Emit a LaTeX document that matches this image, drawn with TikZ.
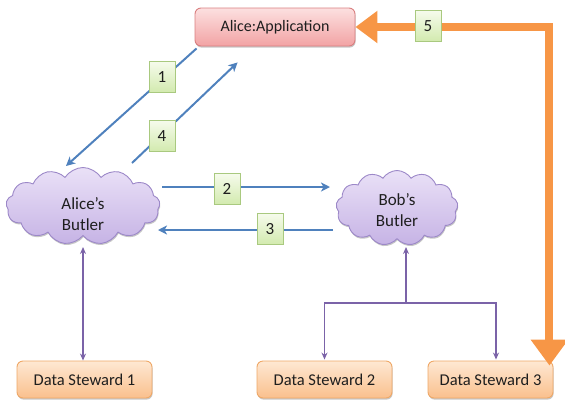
\documentclass[tikz,border=0pt]{standalone}
\usepackage{fontspec}
\setmainfont{Carlito}
\usetikzlibrary{arrows.meta,shapes.symbols,shadows,calc}

\definecolor{apptop}{HTML}{FCE0E0}
\definecolor{appbot}{HTML}{F2A3A4}
\definecolor{appline}{HTML}{D97F80}
\definecolor{dstop}{HTML}{FEE8D3}
\definecolor{dsbot}{HTML}{FAC08D}
\definecolor{dsline}{HTML}{EFA867}
\definecolor{cltop}{HTML}{EAE1F7}
\definecolor{clbot}{HTML}{C6B3E5}
\definecolor{clline}{HTML}{9C88C8}
\definecolor{numtop}{HTML}{F6FBEC}
\definecolor{numbot}{HTML}{D2EAAE}
\definecolor{numline}{HTML}{A9C97F}
\definecolor{flowblue}{HTML}{4F81BD}
\definecolor{linkpurple}{HTML}{7B63A8}
\definecolor{resultorange}{HTML}{F79646}
\definecolor{ink}{HTML}{1E1E1E}

\tikzset{
  softshadow/.style={drop shadow={shadow xshift=0.6pt, shadow yshift=-1.6pt, opacity=0.22, fill=black}},
  appbox/.style={rectangle, rounded corners=6pt, draw=appline, line width=0.9pt,
    top color=apptop, bottom color=appbot, minimum width=160pt, minimum height=38pt,
    text=ink, font=\fontsize{16}{19}\selectfont, softshadow},
  dsbox/.style={rectangle, rounded corners=6pt, draw=dsline, line width=0.9pt,
    top color=dstop, bottom color=dsbot, minimum height=37pt,
    text=ink, font=\fontsize{16.5}{19}\selectfont, softshadow},
  butler/.style={cloud, cloud puffs=13, cloud puff arc=115, cloud ignores aspect,
    draw=clline, line width=0.9pt, top color=cltop, bottom color=clbot,
    inner sep=0pt, softshadow},
  butlertext/.style={align=center, inner sep=0pt, text=ink, font=\fontsize{17}{21}\selectfont},
  numbox/.style={rectangle, draw=numline, line width=0.8pt, top color=numtop, bottom color=numbot,
    minimum width=26pt, minimum height=31pt, inner sep=0pt, text=ink,
    font=\fontsize{17}{19}\selectfont},
  flow/.style={draw=flowblue, line width=2pt, -{Stealth[length=9pt,width=9pt,inset=2.5pt]}},
  link/.style={draw=linkpurple, line width=1.2pt, {Stealth[length=7pt,width=6pt]}-{Stealth[length=7pt,width=6pt]}},
  linkend/.style={draw=linkpurple, line width=1.2pt, -{Stealth[length=7pt,width=6pt]}},
  linkstart/.style={draw=linkpurple, line width=1.2pt, {Stealth[length=7pt,width=6pt]}-},
  result/.style={draw=resultorange, line width=8pt,
    {Triangle[length=22pt,width=31pt]}-{Triangle[length=26pt,width=36pt]}},
}

\begin{document}
\begin{tikzpicture}[x=1pt, y=-1pt]
  \useasboundingbox (0,0) rectangle (565,405);

  % application and data stewards
  \node[appbox] (app) at (275,27) {Alice:Application};
  \node[dsbox, minimum width=135pt] (ds1) at (84.5,379.5) {Data Steward 1};
  \node[dsbox, minimum width=135pt] (ds2) at (324.5,379.5) {Data Steward 2};
  \node[dsbox, minimum width=125pt] (ds3) at (490.5,379.5) {Data Steward 3};

  % the two butlers
  \node[butler, minimum width=154pt, minimum height=77pt] (alice) at (83,206) {};
  \node[butlertext] (alicetext) at ($(alice.center)+(0,8)$) {Alice’s\\Butler};
  \node[butler, minimum width=122pt, minimum height=75pt] (bob) at (397,208) {};
  \node[butlertext] (bobtext) at ($(bob.center)+(0,2)$) {Bob’s\\Butler};

  % result returned to the application
  \coordinate (c5) at ($(ds3.north east)+(-4,5)$);
  \draw[result] (app.east) -| (c5);
  \node[numbox] (n5) at (428,26) {5};

  % request / response flow between application and butlers
  \draw[flow] ($(app.south west)+(2,2)$) -- ($(alice.center)+(-17,-40)$);
  \draw[flow] ($(alice.center)+(49,-43)$) -- ($(app.south west)+(43,16)$);
  \draw[flow] ($(alice.center)+(79,-19)$) -- ($(bob.center)+(-67,-21)$);
  \draw[flow] ($(bob.center)+(-64,22)$) -- ($(alice.center)+(75,24)$);
  \node[numbox] (n1) at (162,77) {1};
  \node[numbox] (n4) at (162,136) {4};
  \node[numbox] (n2) at (227,189) {2};
  \node[numbox] (n3) at (270,229) {3};

  % butlers to data stewards
  \draw[link] (alice.south |- 0,247) -- (ds1.north -| alice.south);
  \coordinate (fork) at (406,303);
  \draw[linkstart] (fork |- 0,247) -- (fork);
  \draw[linkend] (fork) -| ($(ds2.north)+(0,-1)$);
  \draw[linkend] (fork) -| ($(ds3.north)+(5.5,-1)$);
\end{tikzpicture}
\end{document}
